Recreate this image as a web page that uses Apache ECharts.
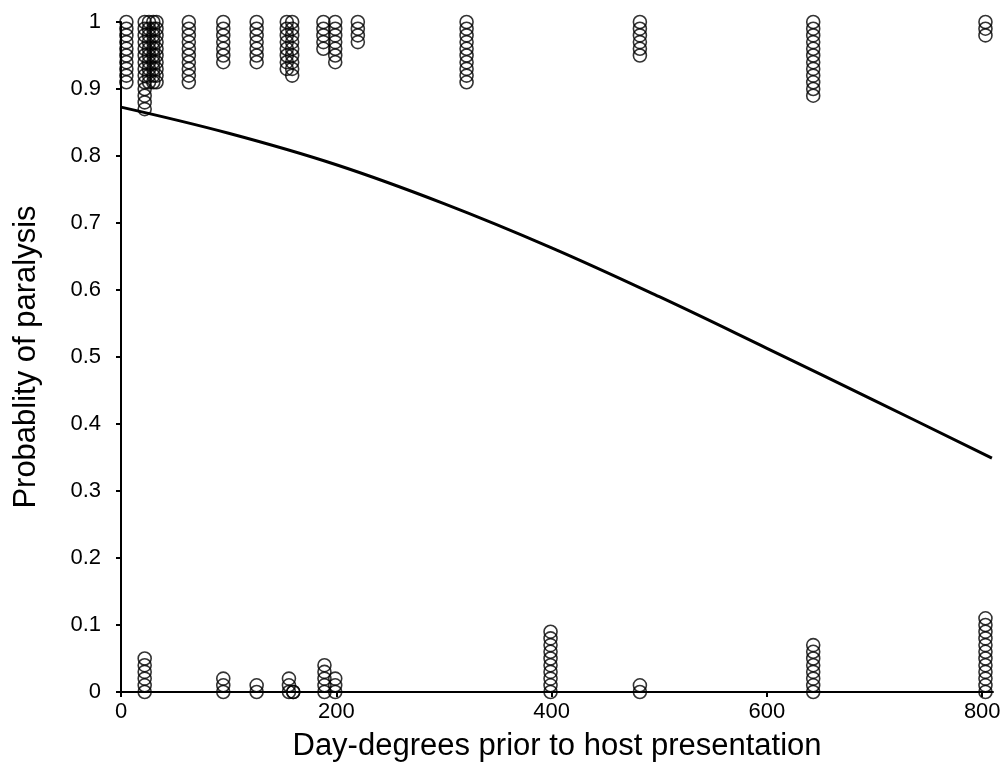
<!DOCTYPE html>
<html>
<head>
<meta charset="utf-8">
<script src="https://cdn.jsdelivr.net/npm/echarts@6/dist/echarts.min.js"></script>
<style>html,body{margin:0;padding:0;background:#fff}#c{width:1003px;height:778px}</style>
</head>
<body>
<div id="c"></div>
<script>
// Observed outcomes: [day-degrees, [jittered probabilities...]]
const paralysedPoints = [
  [5,   [1.00,0.99,0.98,0.97,0.96,0.95,0.94,0.93,0.92,0.91]],
  [22,  [1.00,0.99,0.98,0.97,0.96,0.95,0.94,0.93,0.92,0.91,0.90,0.89,0.88,0.87]],
  [26,  [1.00,0.99,0.98,0.97,0.96,0.95,0.94,0.93,0.92,0.91]],
  [30,  [1.00,0.99,0.98,0.97,0.96,0.95,0.94,0.93,0.92,0.91]],
  [33,  [1.00,0.99,0.98,0.97,0.96,0.95,0.94,0.93,0.92,0.91]],
  [63,  [1.00,0.99,0.98,0.97,0.96,0.95,0.94,0.93,0.92,0.91]],
  [95,  [1.00,0.99,0.98,0.97,0.96,0.95,0.94]],
  [126, [1.00,0.99,0.98,0.97,0.96,0.95,0.94]],
  [154, [1.00,0.99,0.98,0.97,0.96,0.95,0.94,0.93]],
  [159, [1.00,0.99,0.98,0.97,0.96,0.95,0.94,0.93,0.92]],
  [188, [1.00,0.99,0.98,0.97,0.96]],
  [199, [1.00,0.99,0.98,0.97,0.96,0.95,0.94]],
  [220, [1.00,0.99,0.98,0.97]],
  [321, [1.00,0.99,0.98,0.97,0.96,0.95,0.94,0.93,0.92,0.91]],
  [482, [1.00,0.99,0.98,0.97,0.96,0.95]],
  [643, [1.00,0.99,0.98,0.97,0.96,0.95,0.94,0.93,0.92,0.91,0.90,0.89]],
  [803, [1.00,0.99,0.98]]
];
const notParalysedPoints = [
  [22,  [0.00,0.01,0.02,0.03,0.04,0.05]],
  [95,  [0.00,0.01,0.02]],
  [126, [0.00,0.01]],
  [156, [0.00,0.01,0.02]],
  [160, [0.00,0.00]],
  [189, [0.00,0.01,0.02,0.03,0.04]],
  [199, [0.00,0.01,0.02]],
  [399, [0.00,0.01,0.02,0.03,0.04,0.05,0.06,0.07,0.08,0.09]],
  [482, [0.00,0.01]],
  [643, [0.00,0.01,0.02,0.03,0.04,0.05,0.06,0.07]],
  [803, [0.00,0.01,0.02,0.03,0.04,0.05,0.06,0.07,0.08,0.09,0.10,0.11]]
];
// Fitted curve
const curveX = [0, 100, 200, 300, 400, 500, 600, 700, 809];
const curveY = [0.873, 0.834, 0.787, 0.729, 0.663, 0.590, 0.513, 0.435, 0.349];
const xTicks = [0, 200, 400, 600, 800];

const scatterData = [];
[paralysedPoints, notParalysedPoints].forEach(g => g.forEach(([x, ys]) => ys.forEach(y => scatterData.push([x, y]))));
const lineData = curveX.map((x, i) => [x, curveY[i]]);

const chart = echarts.init(document.getElementById('c'), null, {renderer: 'canvas'});
const font = 'Liberation Sans, Arial, sans-serif';
chart.setOption({
  animation: false,
  backgroundColor: '#fff',
  grid: {left: 121, right: 10, top: 22, bottom: 86, containLabel: false, outerBoundsMode: 'none'},
  xAxis: {
    type: 'value', min: 0, max: 810,
    name: 'Day-degrees prior to host presentation',
    nameLocation: 'middle', nameGap: 39,
    nameTextStyle: {fontFamily: font, fontSize: 31, color: '#000'},
    axisLine: {show: true, onZero: false, lineStyle: {color: '#000', width: 2}},
    axisTick: {show: true, length: 5, lineStyle: {color: '#000', width: 2}, customValues: xTicks},
    axisLabel: {fontFamily: font, fontSize: 22, color: '#000', margin: 9, customValues: xTicks},
    splitLine: {show: false}
  },
  yAxis: {
    type: 'value', min: 0, max: 1, interval: 0.1,
    name: 'Probablity of paralysis',
    nameLocation: 'middle', nameGap: 79,
    nameTextStyle: {fontFamily: font, fontSize: 31, color: '#000'},
    axisLine: {show: true, lineStyle: {color: '#000', width: 2}},
    axisTick: {show: true, length: 5, lineStyle: {color: '#000', width: 2}},
    axisLabel: {fontFamily: font, fontSize: 22, color: '#000', margin: 20},
    splitLine: {show: false}
  },
  series: [
    {
      type: 'scatter', data: scatterData, symbol: 'circle', symbolSize: 13,
      itemStyle: {color: 'rgba(0,0,0,0)', borderColor: '#000', borderWidth: 1.6},
      z: 2
    },
    {
      type: 'line', data: lineData, smooth: 0.4, showSymbol: false, symbol: 'none',
      lineStyle: {color: '#000', width: 3}, z: 3
    }
  ]
});
</script>
</body>
</html>
